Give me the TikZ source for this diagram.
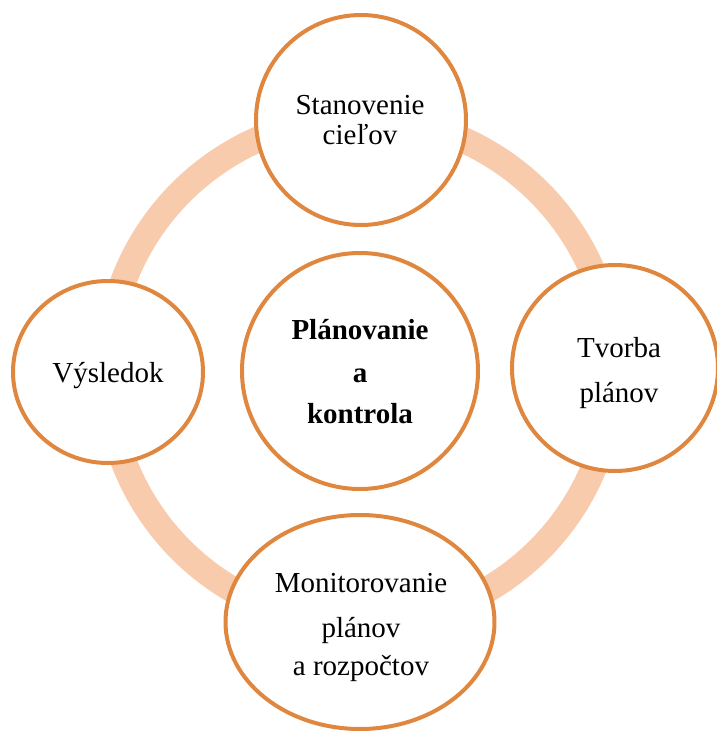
\documentclass[tikz,border=0pt]{standalone}
\usepackage{fontspec}
\setmainfont{Liberation Serif}
\usetikzlibrary{shapes.geometric}
\definecolor{rim}{HTML}{E0873F}
\definecolor{peach}{HTML}{F8CBAD}
\begin{document}
\begin{tikzpicture}[x=1pt,y=-1pt,
  ring/.style={draw=peach,line width=26pt},
  bubble/.style={circle,draw=rim,fill=white,line width=4pt,inner sep=0pt},
  oval/.style={ellipse,draw=rim,fill=white,line width=4pt,inner sep=0pt},
  lbl/.style={anchor=base,inner sep=0pt,font=\fontsize{29}{30}\selectfont}]
\useasboundingbox (0,0) rectangle (717,731);
% background cycle ring
\coordinate (hub) at (360,371);
\draw[ring] (hub) circle (253);
% stage bubbles
\node[bubble,minimum size=210pt] (goals) at (361,120) {};
\node[bubble,minimum size=206pt] (plans) at (615,368) {};
\node[oval,minimum width=269pt,minimum height=214pt] (monitor) at (360,622) {};
\node[oval,minimum width=190pt,minimum height=182pt] (result) at (108,372) {};
\node[bubble,minimum size=236pt] (core) at (hub) {};
% labels
\node[lbl] at (360,114) {Stanovenie};
\node[lbl] at (360,144) {cieľov};
\node[lbl] at (619,357) {Tvorba};
\node[lbl] at (619,402) {plánov};
\node[lbl] at (361,592) {Monitorovanie};
\node[lbl] at (361,637) {plánov};
\node[lbl] at (361,675) {a rozpočtov};
\node[lbl] at (108,382) {Výsledok};
\node[lbl,font=\fontsize{29}{30}\selectfont\bfseries] at (360,339) {Plánovanie};
\node[lbl,font=\fontsize{29}{30}\selectfont\bfseries] at (360,382) {a};
\node[lbl,font=\fontsize{29}{30}\selectfont\bfseries] at (360,423) {kontrola};
\end{tikzpicture}
\end{document}
